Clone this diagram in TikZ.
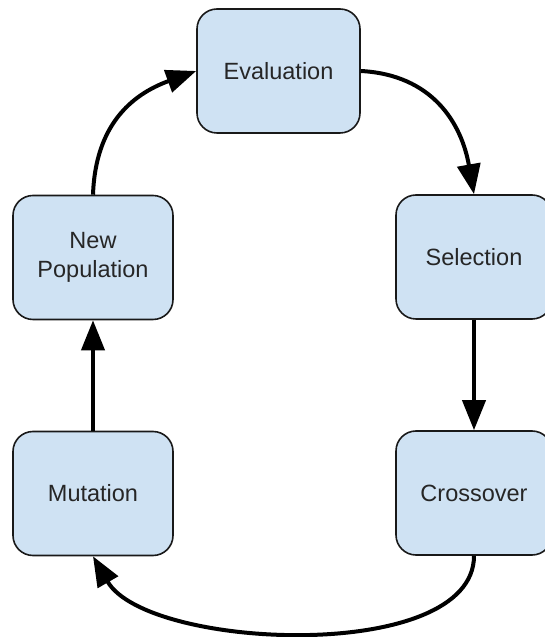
\documentclass[tikz,border=0pt]{standalone}
\usepackage{fontspec}
\setmainfont{Liberation Sans}
\usepackage{xcolor}
\usetikzlibrary{arrows.meta}
\definecolor{boxblue}{HTML}{CFE2F3}

\begin{document}
\begin{tikzpicture}[x=1pt,y=1pt,
  stage/.style={draw=black!90,line width=1.6pt,fill=boxblue,rounded corners=20pt,
    minimum width=160pt,minimum height=124pt,align=center,text=black!85,
    font=\fontsize{23.5}{29}\selectfont},
  flow/.style={line width=4pt,-{Triangle[length=30pt,width=23pt]}}]
\useasboundingbox (0,0) rectangle (545,637);
\node[stage,minimum width=163pt] (eval) at (278.5,566) {Evaluation};
\node[stage,minimum width=156pt] (sel) at (474,380) {Selection};
\node[stage,minimum width=156pt] (cross) at (474,144) {Crossover};
\node[stage] (mut) at (93,143.5) {Mutation};
\node[stage] (newpop) at (93,379.5) {New\\Population};
\draw[flow] (eval.east) to[out=-3,in=100,looseness=1.1] (sel.north);
\draw[flow] (sel.south) -- (cross.north);
\draw[flow] (cross.south) to[out=-90,in=-60,looseness=0.73] (mut.south);
\draw[flow] (mut.north) -- (newpop.south);
\draw[flow] (newpop.north) to[out=88,in=200,looseness=1.1] (eval.west);
\end{tikzpicture}
\end{document}
